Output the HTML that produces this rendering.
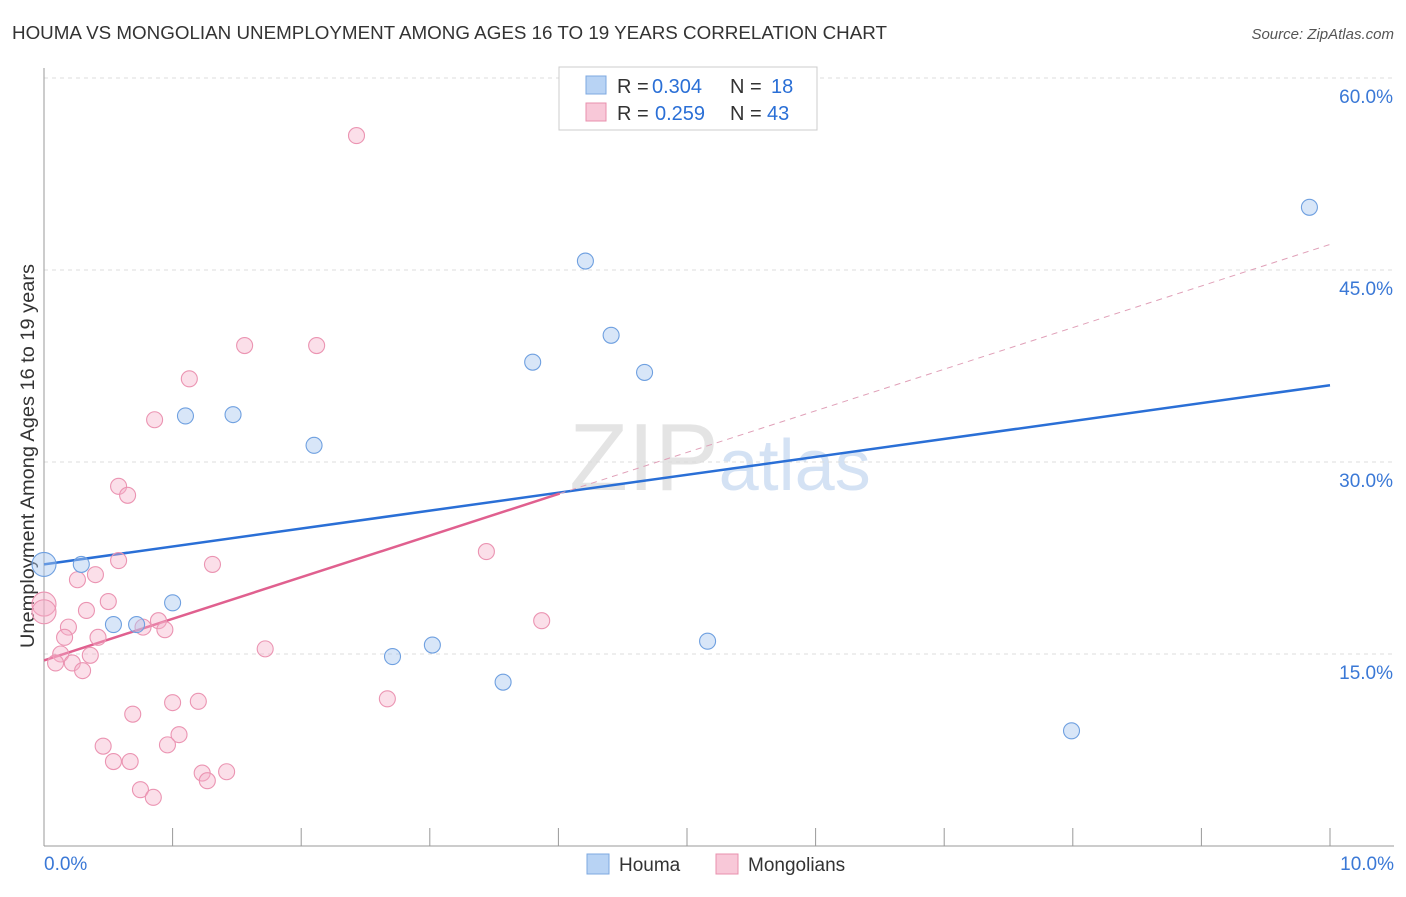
<!DOCTYPE html>
<html><head><meta charset="utf-8"><style>
body{margin:0;background:#fff;font-family:"Liberation Sans",sans-serif;}
svg text{font-family:"Liberation Sans",sans-serif;}
</style></head><body>
<svg id="chart" width="1406" height="892" xmlns="http://www.w3.org/2000/svg">
<text x="12" y="39" font-size="18" fill="#333" textLength="875" lengthAdjust="spacingAndGlyphs">HOUMA VS MONGOLIAN UNEMPLOYMENT AMONG AGES 16 TO 19 YEARS CORRELATION CHART</text>
<text x="1394" y="39" font-size="15" fill="#555" text-anchor="end" font-style="italic">Source: ZipAtlas.com</text>
<text x="720" y="490" font-size="96" fill="#e4e4e4" text-anchor="middle" font-family="Liberation Serif">ZIP<tspan fill="#d4e2f4" font-family="Liberation Sans" font-size="72">atlas</tspan></text>
<text transform="translate(34,456) rotate(-90)" font-size="19" fill="#333" text-anchor="middle" textLength="384" lengthAdjust="spacingAndGlyphs">Unemployment Among Ages 16 to 19 years</text>
<g id="grid"></g><g id="axes"></g><g id="lines"></g><g id="points"></g>
<g>
<rect x="559" y="67" width="258" height="63" fill="#fff" stroke="#ccc"/>
<rect x="586" y="76" width="20" height="18" fill="#b8d3f4" stroke="#7ea8e0"/>
<text x="617" y="93" font-size="20" fill="#333">R =</text>
<text x="652" y="93" font-size="20" fill="#2a6fd6">0.304</text>
<text x="730" y="93" font-size="20" fill="#333">N =</text>
<text x="771" y="93" font-size="20" fill="#2a6fd6">18</text>
<rect x="586" y="103" width="20" height="18" fill="#f8c8d8" stroke="#e890ae"/>
<text x="617" y="120" font-size="20" fill="#333">R =</text>
<text x="655" y="120" font-size="20" fill="#2a6fd6">0.259</text>
<text x="730" y="120" font-size="20" fill="#333">N =</text>
<text x="767" y="120" font-size="20" fill="#2a6fd6">43</text>
</g>
<g>
<rect x="587" y="854" width="22" height="20" fill="#b8d3f4" stroke="#7ea8e0"/>
<text x="619" y="871" font-size="19" fill="#333">Houma</text>
<rect x="716" y="854" width="22" height="20" fill="#f8c8d8" stroke="#e890ae"/>
<text x="748" y="871" font-size="19" fill="#333">Mongolians</text>
</g>
</svg>
<script>
const houmaX=[0.0,0.29,0.54,0.72,1.0,1.10,1.47,2.10,2.71,3.02,3.57,3.80,4.21,4.41,4.67,5.16,7.99,9.84];
const houmaY=[22.0,22.0,17.3,17.3,19.0,33.6,33.7,31.3,14.8,15.7,12.8,37.8,45.7,39.9,37.0,16.0,9.0,49.9];
const mongX=[2.43,1.56,2.12,1.13,0.86,0.58,0.65,3.44,0.58,1.31,0.40,0.26,0.0,0.0,0.50,0.33,3.87,0.89,0.77,0.94,0.19,0.16,0.42,1.72,0.13,0.36,0.22,0.09,0.30,2.67,1.00,1.20,0.69,1.05,0.46,0.96,0.54,0.67,1.23,1.42,1.27,0.75,0.85];
const mongY=[55.5,39.1,39.1,36.5,33.3,28.1,27.4,23.0,22.3,22.0,21.2,20.8,18.9,18.3,19.1,18.4,17.6,17.6,17.1,16.9,17.1,16.3,16.3,15.4,15.0,14.9,14.3,14.3,13.7,11.5,11.2,11.3,10.3,8.7,7.8,7.9,6.6,6.6,5.7,5.8,5.1,4.4,3.8];
const yTicks=[15,30,45,60];
const yTickLabels=["15.0%","30.0%","45.0%","60.0%"];
const xTicks=[0,1,2,3,4,5,6,7,8,9,10];
const houmaLine=[22.0,36.0];
const mongLine=[14.5,3.25];
const X=v=>44+v*128.6, Y=v=>846-v*12.8;
const NS="http://www.w3.org/2000/svg";
function mk(p,t,a){const e=document.createElementNS(NS,t);for(const k in a)e.setAttribute(k,a[k]);document.getElementById(p).appendChild(e);return e;}
yTicks.forEach((t,i)=>{
 const g=mk('grid','line',{x1:44,x2:1394,y1:Y(t),y2:Y(t),stroke:'#ddd','stroke-dasharray':'4,4'});
 
 
 const l=mk('grid','text',{x:1393,y:Y(t)+25,'font-size':19,fill:'#3a78d6','text-anchor':'end'});
 l.textContent=yTickLabels[i];
 
 
});
const xa=mk('axes','line',{x1:44,x2:1394,y1:846,y2:846,stroke:'#999'});


const ya=mk('axes','line',{x1:44,x2:44,y1:68,y2:846,stroke:'#999'});


xTicks.forEach(t=>{const e=mk('axes','line',{x1:X(t),x2:X(t),y1:828,y2:846,stroke:'#999'});
 
 });
const l0=mk('axes','text',{x:44,y:870,'font-size':19,fill:'#3a78d6'});l0.textContent="0.0%";


const l1=mk('axes','text',{x:1394,y:870,'font-size':19,fill:'#3a78d6','text-anchor':'end'});l1.textContent="10.0%";


mongX.forEach((x,i)=>{const r=x===0?12:8;const c=mk('points','circle',{cx:X(x),cy:Y(mongY[i]),r:r,fill:'rgba(244,176,200,0.4)',stroke:'#eb94b2','stroke-width':1.1});
 
 });
houmaX.forEach((x,i)=>{const r=x===0?12:8;const c=mk('points','circle',{cx:X(x),cy:Y(houmaY[i]),r:r,fill:'rgba(168,200,240,0.45)',stroke:'#6fa0e0','stroke-width':1.1});
 
 });
const hl=mk('lines','line',{x1:X(0),y1:Y(houmaLine[0]),x2:X(10),y2:Y(houmaLine[1]),stroke:'#2a6fd6','stroke-width':2.5});


const ml=mk('lines','line',{x1:X(0),y1:Y(mongLine[0]),x2:X(4.01),y2:Y(mongLine[0]+mongLine[1]*4.01),stroke:'#e0608f','stroke-width':2.5});


const md=mk('lines','line',{x1:X(4.01),y1:Y(mongLine[0]+mongLine[1]*4.01),x2:X(10),y2:Y(mongLine[0]+mongLine[1]*10),stroke:'#e0a0b8','stroke-width':1,'stroke-dasharray':'6,5'});


</script>
</body></html>
